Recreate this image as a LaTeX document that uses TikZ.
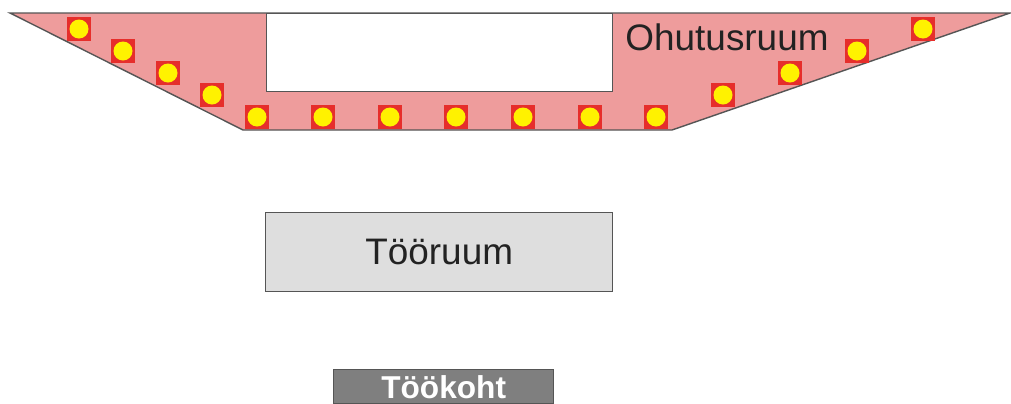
\documentclass[tikz,border=0pt]{standalone}
\usepackage{fontspec}
\setmainfont{Liberation Sans}
\definecolor{zonepink}{HTML}{EE9C9C}
\definecolor{lampred}{HTML}{E62E2B}
\definecolor{lampyellow}{HTML}{FFF200}
\definecolor{roomgray}{HTML}{DEDEDE}
\definecolor{spotgray}{HTML}{7F7F7F}
\definecolor{edgegray}{HTML}{555555}
\definecolor{inkgray}{HTML}{222222}
\tikzset{
  lamp/.style = {fill=lampred, minimum size=24*0.02cm, inner sep=0pt},
  bulb/.style = {fill=lampyellow, circle, minimum size=19*0.02cm, inner sep=0pt},
  roombox/.style = {draw=edgegray, line width=0.8pt, inner sep=0pt}
}

\begin{document}
\begin{tikzpicture}[x=0.02cm, y=-0.02cm]
\useasboundingbox (0,0) rectangle (1011,403);
% safety zone
\filldraw[fill=zonepink, draw=edgegray, line width=0.8pt]
  (10,13) -- (1010,13) -- (672,130) -- (243,130) -- cycle;
\path (266,13) node[roombox, fill=white, minimum width=346*0.02cm, minimum height=78*0.02cm, anchor=north west] (gap) {};
\node[text=inkgray] (safe) at (727,37) {\fontsize{21}{24}\selectfont Ohutusruum};
% lamps
\foreach \x/\y [count=\i] in {79/29, 123/51, 168/73, 212/95, 257/117, 323/117, 390/117, 456/117, 523/117, 590/117, 656/117, 723/95, 790/73, 857/51, 923/29} {
  \node[lamp] (lamp\i) at (\x,\y) {};
  \node[bulb] at (lamp\i) {};
}
% work room and work place
\path (265,212) node[roombox, fill=roomgray, minimum width=347*0.02cm, minimum height=79*0.02cm, anchor=north west] (room) {};
\node[text=inkgray] (roomtext) at (room.center) {\fontsize{21}{24}\selectfont Tööruum};
\path (333,369) node[roombox, fill=spotgray, minimum width=220*0.02cm, minimum height=34*0.02cm, anchor=north west] (spot) {};
\node[text=white] (spottext) at (spot.center) {\fontsize{18}{20}\selectfont\bfseries Töökoht};
\end{tikzpicture}
\end{document}
